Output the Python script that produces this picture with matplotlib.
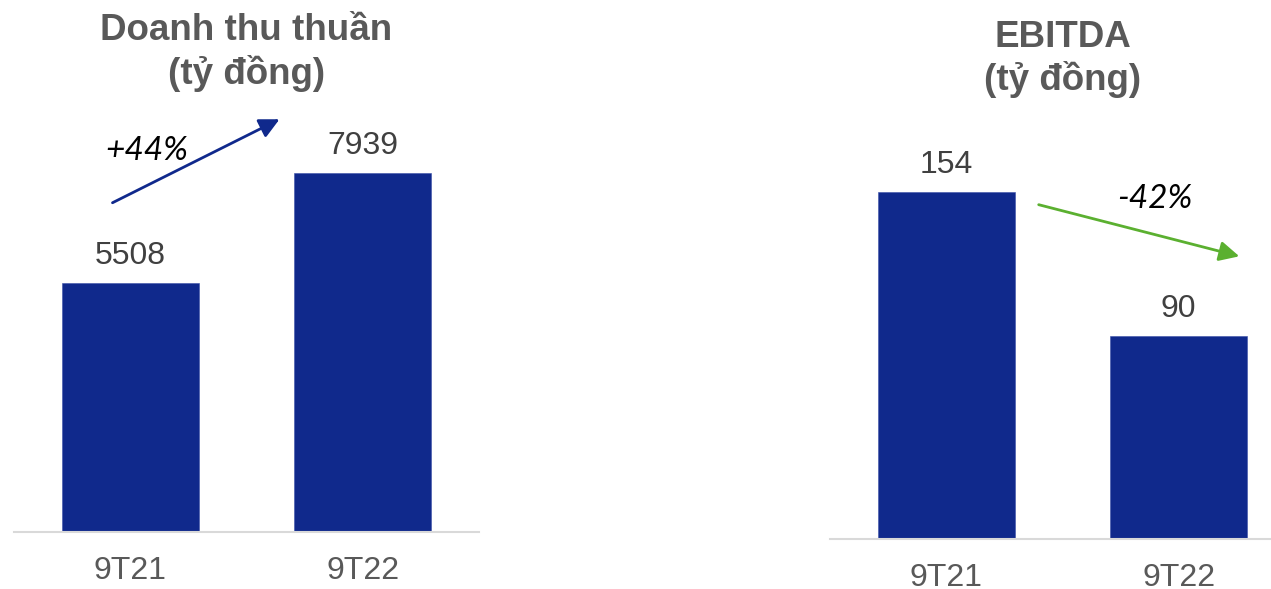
import matplotlib
matplotlib.use('Agg')
import matplotlib.pyplot as plt

W, H = 1271, 589
plt.rcParams['font.family'] = ['Liberation Sans', 'DejaVu Sans']

# ── data ─────────────────────────────────────────────────────────
periods = ['9T21', '9T22']
revenue = [5508, 7939]
ebitda = [154, 90]
rev_change = '+44%'
ebitda_change = '-42%'

BAR = '#10298C'
GRAY = '#595959'
AXIS = '#D9D9D9'

fig = plt.figure(figsize=(W / 100, H / 100), dpi=100)
fig.patch.set_facecolor('white')


def px(x, y):
    # figure pixel -> figure fraction
    return x / W, 1 - y / H


def draw_panel(rect_px, values, px_per_unit, xmax):
    x0, base, w, top = rect_px
    h = base - top
    ax = fig.add_axes([x0 / W, (H - base) / H, w / W, h / H])
    ax.bar(range(len(values)), values, width=0.59, color=BAR,
           edgecolor='#3A4FA8', linewidth=0.4, zorder=2)
    ax.set_xlim(-0.5, xmax)
    ax.set_ylim(0, h / px_per_unit)
    for s in ['top', 'right', 'left']:
        ax.spines[s].set_visible(False)
    ax.spines['bottom'].set_color(AXIS)
    ax.spines['bottom'].set_linewidth(1.5)
    ax.set_yticks([])
    ax.set_xticks(range(len(values)))
    ax.set_xticklabels(periods, fontsize=23, color=GRAY)
    ax.tick_params(axis='x', length=0, pad=17)
    for i, v in enumerate(values):
        ax.annotate(str(v), (i, v), xytext=(0, 19), textcoords='offset pixels',
                    ha='center', va='baseline', fontsize=23, color='#404040')
    return ax


# ── left: revenue ────────────────────────────────────────────────
draw_panel((14, 532, 465, 100), revenue, 359 / revenue[1], 1.5)
fig.text(*px(246.5, 40), 'Doanh thu thuần', ha='center', va='baseline',
         fontsize=26.5, fontweight='bold', color=GRAY)
fig.text(*px(246.5, 84), '(tỷ đồng)', ha='center', va='baseline',
         fontsize=26.5, fontweight='bold', color=GRAY)

fig.add_artist(matplotlib.patches.FancyArrowPatch(
    px(110, 204), px(282, 118), transform=fig.transFigure,
    arrowstyle='-|>', mutation_scale=30, color=BAR, lw=2))
fig.text(*px(147, 151), rev_change, ha='center', va='center',
         fontsize=24, style='italic', color='black', family=['Lato', 'DejaVu Sans'])

# ── right: EBITDA ────────────────────────────────────────────────
draw_panel((830, 539, 441, 100), ebitda, 347 / ebitda[0], 1.397)
fig.text(*px(1063, 47), 'EBITDA', ha='center', va='baseline',
         fontsize=26.5, fontweight='bold', color=GRAY)
fig.text(*px(1063, 90), '(tỷ đồng)', ha='center', va='baseline',
         fontsize=26.5, fontweight='bold', color=GRAY)

fig.add_artist(matplotlib.patches.FancyArrowPatch(
    px(1036, 204), px(1242, 257), transform=fig.transFigure,
    arrowstyle='-|>', mutation_scale=30, color='#5BB030', lw=2))
fig.text(*px(1155, 199), ebitda_change, ha='center', va='center',
         fontsize=24, style='italic', color='black', family=['Lato', 'DejaVu Sans'])

plt.savefig('out.png', dpi=100, facecolor='white')
